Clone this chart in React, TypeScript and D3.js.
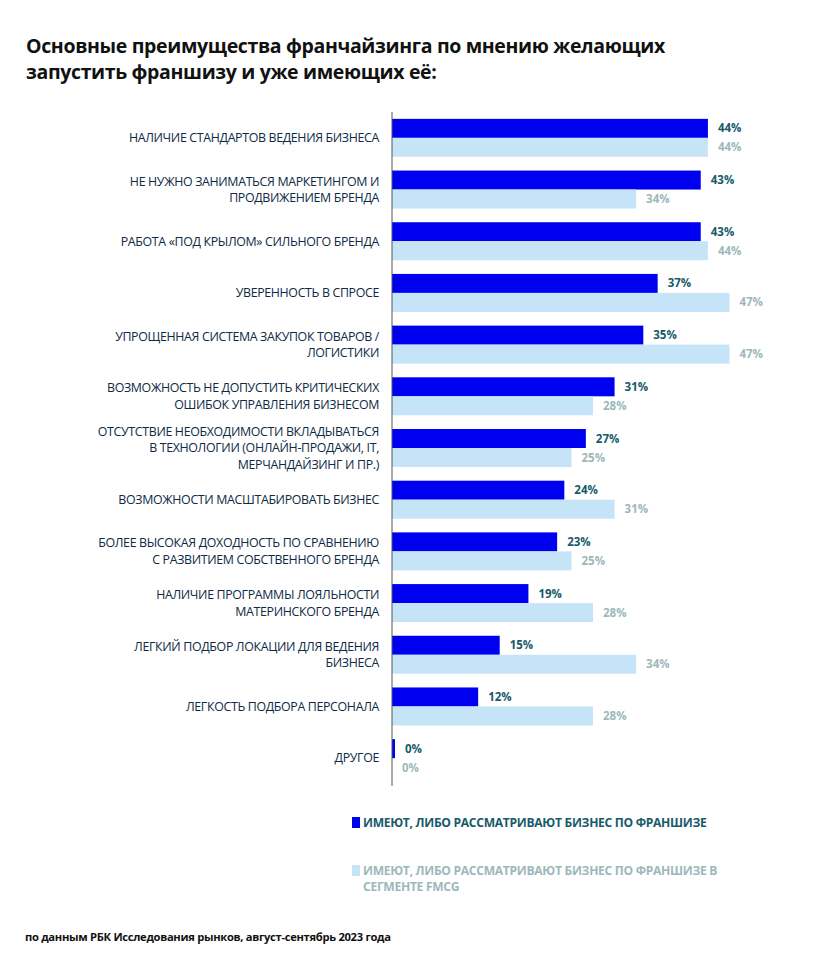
import React from "react";
import * as d3 from "d3";

const categories: string[] = [
  "НАЛИЧИЕ СТАНДАРТОВ ВЕДЕНИЯ БИЗНЕСА",
  "НЕ НУЖНО ЗАНИМАТЬСЯ МАРКЕТИНГОМ И\nПРОДВИЖЕНИЕМ БРЕНДА",
  "РАБОТА «ПОД КРЫЛОМ» СИЛЬНОГО БРЕНДА",
  "УВЕРЕННОСТЬ В СПРОСЕ",
  "УПРОЩЕННАЯ СИСТЕМА ЗАКУПОК ТОВАРОВ /\nЛОГИСТИКИ",
  "ВОЗМОЖНОСТЬ НЕ ДОПУСТИТЬ КРИТИЧЕСКИХ\nОШИБОК УПРАВЛЕНИЯ БИЗНЕСОМ",
  "ОТСУТСТВИЕ НЕОБХОДИМОСТИ ВКЛАДЫВАТЬСЯ\nВ ТЕХНОЛОГИИ (ОНЛАЙН-ПРОДАЖИ, IT,\nМЕРЧАНДАЙЗИНГ И ПР.)",
  "ВОЗМОЖНОСТИ МАСШТАБИРОВАТЬ БИЗНЕС",
  "БОЛЕЕ ВЫСОКАЯ ДОХОДНОСТЬ ПО СРАВНЕНИЮ\nС РАЗВИТИЕМ СОБСТВЕННОГО БРЕНДА",
  "НАЛИЧИЕ ПРОГРАММЫ ЛОЯЛЬНОСТИ\nМАТЕРИНСКОГО БРЕНДА",
  "ЛЕГКИЙ ПОДБОР ЛОКАЦИИ ДЛЯ ВЕДЕНИЯ\nБИЗНЕСА",
  "ЛЕГКОСТЬ ПОДБОРА ПЕРСОНАЛА",
  "ДРУГОЕ",
];

const seriesAll: number[] = [44, 43, 43, 37, 35, 31, 27, 24, 23, 19, 15, 12, 0];
const seriesFMCG: number[] = [44, 34, 44, 47, 47, 28, 25, 31, 25, 28, 34, 28, 0];

const legendLabels: string[] = [
  "ИМЕЮТ, ЛИБО РАССМАТРИВАЮТ БИЗНЕС ПО ФРАНШИЗЕ",
  "ИМЕЮТ, ЛИБО РАССМАТРИВАЮТ БИЗНЕС ПО ФРАНШИЗЕ В\nСЕГМЕНТЕ FMCG",
];

const titleLines: string[] = [
  "Основные преимущества франчайзинга по мнению желающих",
  "запустить франшизу и уже имеющих её:",
];
const sourceText = "по данным РБК Исследования рынков, август-сентябрь 2023 года";

const DARK = "#0000f0";
const LIGHT = "#c6e4f8";
const DARK_TXT = "#175a6a";
const LIGHT_TXT = "#9db8bb";
const LABEL_TXT = "#0e2a44";
const FONT = "'Open Sans', 'Noto Sans', sans-serif";

export default function App() {
  const W = 824;
  const H = 962;
  const x0 = 392;
  const x = d3.scaleLinear().domain([0, 50]).range([x0, x0 + 359]);
  const y = d3
    .scaleBand<string>()
    .domain(categories)
    .range([112, 784])
    .paddingInner(0)
    .paddingOuter(0);
  const barH = 19;
  const fmt = (v: number) => `${d3.format("d")(v)}%`;

  return (
    <svg
      width={W}
      height={H}
      style={{ position: "absolute", left: 0, top: 0, background: "#fff" }}
      fontFamily={FONT}
    >
      <rect width={W} height={H} fill="#fff" />
      {titleLines.map((t, i) => (
        <text
          key={i}
          x={26}
          y={53 + i * 26}
          fontSize={19.5}
          fontWeight={700}
          fill="#111"
          letterSpacing={-0.35}
        >
          {t}
        </text>
      ))}

      {categories.map((c, i) => {
        const yc = (y(c) as number) + y.bandwidth() / 2;
        const lines = c.split("\n");
        const lh = 16.5;
        const start = yc - ((lines.length - 1) * lh) / 2;
        const wd = Math.max(x(seriesAll[i]) - x0, 3);
        const wl = x(seriesFMCG[i]) - x0;
        return (
          <g key={c}>
            {lines.map((l, j) => (
              <text
                key={j}
                x={379}
                y={start + j * lh}
                dy="0.35em"
                textAnchor="end"
                fontSize={12.4}
                fill={LABEL_TXT}
                letterSpacing={-0.35}
              >
                {l}
              </text>
            ))}
            <rect x={x0} y={yc - barH} width={wd} height={barH} fill={DARK} />
            <rect x={x0} y={yc} width={wl} height={barH} fill={LIGHT} />
            <text
              x={x0 + wd + 10}
              y={yc - barH / 2}
              dy="0.35em"
              fontSize={11.5}
              fontWeight={700}
              fill={DARK_TXT}
            >
              {fmt(seriesAll[i])}
            </text>
            <text
              x={x0 + Math.max(wl, 0) + 10}
              y={yc + barH / 2}
              dy="0.35em"
              fontSize={11.5}
              fontWeight={700}
              fill={LIGHT_TXT}
            >
              {fmt(seriesFMCG[i])}
            </text>
          </g>
        );
      })}
      <line x1={x0} x2={x0} y1={112} y2={786} stroke="#555" strokeWidth={1} />

      <rect x={352} y={817} width={8} height={11} fill={DARK} />
      <text x={363} y={822.5} dy="0.35em" fontSize={12.1} fontWeight={700} fill={DARK_TXT} letterSpacing={-0.3}>
        {legendLabels[0]}
      </text>
      <rect x={352} y={865} width={8} height={11} fill={LIGHT} />
      {legendLabels[1].split("\n").map((l, j) => (
        <text key={j} x={363} y={870.5 + j * 16.5} dy="0.35em" fontSize={12.1} fontWeight={700} fill={LIGHT_TXT} letterSpacing={-0.3}>
          {l}
        </text>
      ))}

      <text x={25} y={937} dy="0.35em" fontSize={11.2} fontWeight={700} fill="#111" letterSpacing={-0.3}>
        {sourceText}
      </text>
    </svg>
  );
}
